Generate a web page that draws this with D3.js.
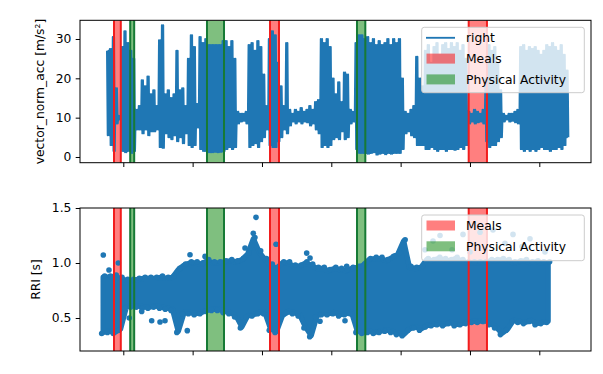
<!DOCTYPE html>
<html><head><meta charset="utf-8">
<script src="https://cdn.jsdelivr.net/npm/d3@7"></script>
<style>html,body{margin:0;padding:0;background:#fff;} svg{display:block;font-family:"DejaVu Sans",sans-serif;}</style>
</head><body><svg id="c" width="603" height="374"></svg>
<script>
// ---- data ----
const xTicks = [8, 10, 12, 14, 16, 18, 20];           // hours (labels hidden in reference)
const accYTicks = [0, 10, 20, 30];
const rriYTicks = [0.5, 1.0, 1.5];

// accelerometer: per 5-minute bin envelope (max / min) of vector_norm_acc
const accStartHour = 7.559;
const accStepMin = 5;
const accHigh = [27,27.5,30.5,17.5,10.5,28,32,29,27,25, 12,13,19.5,18,20.5,16,17,13,29.7,33.5,
  16,17,15,16,27,17,17.5,13,25,31, 28,13.5,30.5,29,30,28.5,28.5,28.5,28.5,28.5,
  29.5,29.5,28,29.5,25,11.5,11,11,11.5,28.5, 29,27,29.5,28,21,13,30,32,31,24,
  18,13,29,12,11,12,11.5,12.5,11.5,12, 13,12,14,14.5,30,29,30,28,20,16,
  19,14,21.5,21,12,11.5,29,31,31,30, 30.5,29,30,28.5,29.5,28.5,29,30,28.5,30,
  29,30,20,11.5,11,12,13,25.5,20,18, 27,28.5,24,28,29,26,28.5,29,27.5,29,
  28,29,27,28.5,25,11.5,11,12,11.5,11, 12,20,28.5,27,28,24,17,11,10.5,11,
  11,11.5,12,28,28.5,27,28,27.5,28,27, 26,27,28.5,28,29,28,27,28.5,26,22];
const accLow = [5.5,3,1.5,8.5,9.5,1.5,1.2,1.5,1,1.5, 7,7,6,7,5.5,6.5,6.5,7,2.5,2.3,
  6,5,4.5,5.5,4,5,3.5,6,3,2.5, 3,7.5,2,1.5,1.5,1.2,1.2,1.3,1.2,1.3,
  1.5,2,2.5,2,2.5,8.5,9,9.2,8.5,2.5, 3,3.5,2.5,4,5,7,3,2.5,2.5,4,
  5,7,6,8,9,8.5,9,8.5,9,8.8, 8,8.5,7,6,2.5,3,2.5,3,4.5,5,
  4.5,6.5,4.5,5,8.5,9,2,1,1,1, 0.8,1,1.2,0.6,0.8,1,0.7,1,0.8,1,
  1,1,2,6,6.5,5.5,5,3,3,3, 2,2,2.5,2,1.5,2,2,1.5,2,2,
  1.8,2,2.5,2,3,8.5,9,8.5,8.8,9, 8.5,4,2.5,3,3,4,5,9,9.5,9,
  9.2,8.8,8.5,2,1.5,2,1.5,2,1.5,2, 2.5,2,2,1.5,2,2,2.5,2,3,5];

// RRI: per 10-minute bin extent of the dense cloud, plus isolated points
const rriStartHour = 7.42;
const rriStepMin = 10;
const rriHigh = [0.87,0.87,0.88,0.86,0.84,0.84,0.85,0.86,0.86,0.86, 0.87,0.86,0.87,0.94,0.98,1.00,1.00,0.99,1.02,1.00,
  1.00,1.01,1.02,1.01,1.03,1.08,1.22,1.10,1.03,0.98, 0.95,1.00,1.00,0.97,0.97,1.00,0.98,0.95,0.95,0.93,
  0.95,0.94,0.93,0.95,0.96,0.98,1.03,1.04,1.04,1.02, 1.05,1.08,1.20,0.96,0.95,0.96,1.03,1.02,1.04,1.03,
  1.02,1.04,1.02,1.00,1.00,1.00,1.00,1.02,1.02,1.03, 1.02,1.00,1.01,1.02,1.00,1.01,1.00,1.00];
const rriLow = [0.37,0.38,0.37,0.40,0.60,0.61,0.61,0.60,0.60,0.61, 0.60,0.59,0.58,0.38,0.55,0.55,0.54,0.55,0.57,0.58,
  0.58,0.56,0.55,0.52,0.42,0.52,0.53,0.55,0.55,0.40, 0.38,0.52,0.56,0.55,0.53,0.42,0.34,0.52,0.54,0.54,
  0.55,0.53,0.54,0.55,0.38,0.37,0.38,0.37,0.38,0.39, 0.38,0.36,0.35,0.40,0.42,0.40,0.43,0.44,0.45,0.44,
  0.46,0.44,0.45,0.46,0.47,0.47,0.48,0.45,0.42,0.36, 0.40,0.48,0.47,0.46,0.48,0.45,0.46,0.47];
const rriOutHour = [7.423,7.587,7.856,8.173,8.531,8.819,9.059,9.203,9.846,9.924,10.357,11.511,11.828,11.75,
  12.405,12.385,13.29,13.386,14.444,14.395,13.674,16.703,16.934,17.136,17.482,17.799,18.0,18.29,18.664,
  19.01,19.241,19.501,19.731,20.164];
const rriOutVal = [1.073,0.936,1.0,0.50,0.56,0.475,0.464,0.475,0.385,1.075,1.06,1.136,1.415,1.27,
  1.17,0.394,1.09,1.045,0.97,0.475,0.47,1.12,1.20,1.25,1.12,1.26,1.10,1.28,1.30,
  1.18,1.26,1.15,1.22,1.10];

// event spans (hours)
const mealStart = [7.732, 12.232, 17.963];
const mealEnd   = [7.928, 12.491, 18.49];
const actStart  = [8.199, 10.414, 14.741];
const actEnd    = [8.314, 10.905, 14.981];

// ---- drawing ----
const svg = d3.select("#c");
const BLUE = "#1f77b4";
const FS = 12.3;
const L = 80, R = 591;
const x = d3.scaleLinear().domain([6.751, 21.491]).range([L, R]);
const panels = [
  {top: 20.3, bottom: 162.7, domain: [-1.45, 34.75], ticks: accYTicks, fmt: d3.format("d"),
   label: "vector_norm_acc [m/s²]", labelX: 40},
  {top: 208, bottom: 351, domain: [0.2, 1.5], ticks: rriYTicks, fmt: d3.format(".1f"),
   label: "RRI [s]", labelX: 35.5}
];
const spans = [];
mealStart.forEach((s, i) => spans.push({s, e: mealEnd[i], fill: "#ff0000", edge: "#f21d1d"}));
actStart.forEach((s, i) => spans.push({s, e: actEnd[i], fill: "#008000", edge: "#177a35"}));

panels.forEach((p, k) => {
  p.y = d3.scaleLinear().domain(p.domain).range([p.bottom, p.top]);
  const g = svg.append("g");
  const cid = "clip" + k;
  svg.append("clipPath").attr("id", cid).append("rect")
    .attr("x", L).attr("y", p.top).attr("width", R - L).attr("height", p.bottom - p.top);
  const plot = g.append("g").attr("clip-path", `url(#${cid})`);
  const gFill = plot.append("g");
  const gData = plot.append("g");
  const gEdge = plot.append("g");
  // span fills (beneath data)
  spans.forEach(d => {
    gFill.append("rect")
      .attr("x", x(d.s)).attr("width", x(d.e) - x(d.s))
      .attr("y", p.top).attr("height", p.bottom - p.top)
      .attr("fill", d.fill).attr("fill-opacity", 0.5);
  });
  // data
  if (k === 0) {
    // oscillating signal: swings between each bin's max and min (two swings per bin)
    const pts = [];
    const st = accStepMin / 60;
    accHigh.forEach((h, i) => {
      const t = accStartHour + i * st;
      pts.push([t - 3 * st / 8, h]);
      pts.push([t - st / 8, accLow[i]]);
      pts.push([t + st / 8, h]);
      pts.push([t + 3 * st / 8, accLow[i]]);
    });
    const line = d3.line().x(d => x(d[0])).y(d => p.y(d[1]));
    gData.append("path").attr("d", line(pts))
      .attr("fill", "none").attr("stroke", BLUE).attr("stroke-width", 1.85).attr("stroke-linejoin", "round");
  } else {
    const bx = (i) => x(rriStartHour + i * rriStepMin / 60);
    const area = d3.area()
      .x((d, i) => bx(i))
      .y0((d, i) => p.y(rriLow[i]))
      .y1(d => p.y(d));
    gData.append("path").attr("d", area(rriHigh))
      .attr("fill", BLUE).attr("stroke", BLUE).attr("stroke-width", 5.4)
      .attr("stroke-linejoin", "round").attr("stroke-linecap", "round");
    rriHigh.forEach((d, i) => {
      gData.append("circle").attr("cx", bx(i) + 1.5).attr("cy", p.y(d) - 1.2).attr("r", 2.8).attr("fill", BLUE);
      gData.append("circle").attr("cx", bx(i) - 1.5).attr("cy", p.y(rriLow[i]) + 1.2).attr("r", 2.8).attr("fill", BLUE);
    });
    rriOutVal.forEach((d, i) => {
      gData.append("circle").attr("cx", x(rriOutHour[i])).attr("cy", p.y(d)).attr("r", 2.8).attr("fill", BLUE);
    });
  }
  // span edges (above data)
  spans.forEach(d => {
    [d.s, d.e].forEach(t => {
      gEdge.append("line").attr("x1", x(t)).attr("x2", x(t)).attr("y1", p.top).attr("y2", p.bottom)
        .attr("stroke", d.edge).attr("stroke-width", 2);
    });
  });
  // axes
  const ax = g.append("g").attr("transform", `translate(0,${p.bottom})`)
    .call(d3.axisBottom(x).tickValues(xTicks).tickFormat("").tickSize(4.3).tickSizeOuter(0));
  ax.select(".domain").remove();
  const ay = g.append("g").attr("transform", `translate(${L},0)`)
    .call(d3.axisLeft(p.y).tickValues(p.ticks).tickFormat(p.fmt).tickSize(4.3).tickPadding(4.3).tickSizeOuter(0));
  ay.select(".domain").remove();
  g.selectAll(".tick line").attr("stroke", "#000").attr("stroke-width", 1);
  ay.selectAll("text").attr("font-size", FS).attr("font-family", "DejaVu Sans").attr("fill", "#000");
  g.append("rect").attr("x", L).attr("y", p.top).attr("width", R - L).attr("height", p.bottom - p.top)
    .attr("fill", "none").attr("stroke", "#000").attr("stroke-width", 1);
  g.append("text").attr("transform", `translate(${p.labelX},${(p.top + p.bottom) / 2}) rotate(-90)`)
    .attr("text-anchor", "middle").attr("dy", "0.35em").attr("font-size", FS).text(p.label);
});

// legends
function legend(top, items) {
  const h = items.length === 3 ? 65.4 : 45.7;
  const g = svg.append("g");
  g.append("rect").attr("x", 421.7).attr("y", top).attr("width", 162.6).attr("height", h)
    .attr("rx", 2.5).attr("fill", "#ffffff").attr("fill-opacity", 0.8).attr("stroke", "#cccccc").attr("stroke-width", 1);
  items.forEach((it, i) => {
    const cy = top + 10.5 + i * 20.8;
    if (it.type === "line") {
      g.append("line").attr("x1", 426).attr("x2", 455).attr("y1", cy).attr("y2", cy)
        .attr("stroke", BLUE).attr("stroke-width", 1.85);
    } else {
      g.append("rect").attr("x", 426.5).attr("y", cy - 5).attr("width", 28.5).attr("height", 10)
        .attr("fill", it.fill).attr("fill-opacity", 0.5);
    }
    g.append("text").attr("x", 466).attr("y", cy).attr("dy", "0.35em").attr("font-size", FS).text(it.label);
  });
}
legend(27.3, [{type: "line", label: "right"},
  {type: "patch", fill: "#ff0000", label: "Meals"},
  {type: "patch", fill: "#008000", label: "Physical Activity"}]);
legend(215, [{type: "patch", fill: "#ff0000", label: "Meals"},
  {type: "patch", fill: "#008000", label: "Physical Activity"}]);
</script>
</body></html>
